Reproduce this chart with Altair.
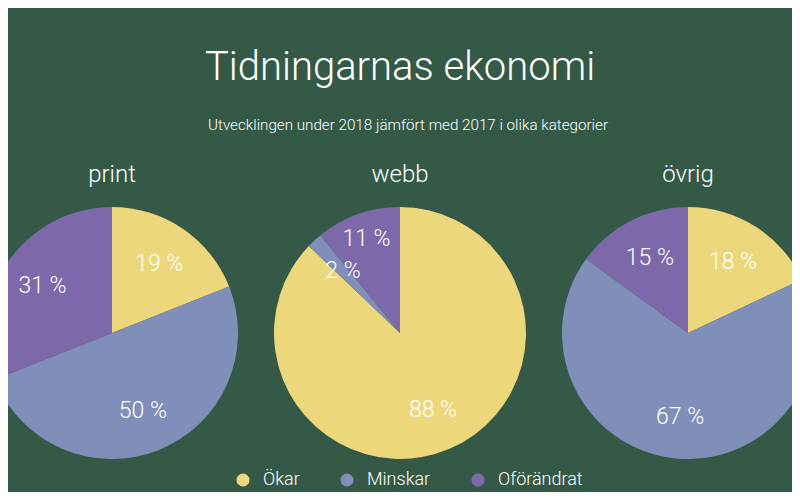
import altair as alt
import pandas as pd

title_text = "Tidningarnas ekonomi"
subtitle_text = "Utvecklingen under 2018 jämfört med 2017 i olika kategorier"
panels = ["print", "webb", "övrig"]
categories = ["Ökar", "Minskar", "Oförändrat"]
print_values = [19, 50, 31]
webb_values = [88, 2, 11]
ovrig_values = [18, 67, 15]
colors = ["#ecd77a", "#7f8fb9", "#7d69aa"]
bg = "#345a47"
FONT = "Roboto"

rows = []
for p, vals in zip(panels, [print_values, webb_values, ovrig_values]):
    for i, (c, v) in enumerate(zip(categories, vals)):
        rows.append({"panel": p, "cat": c, "value": v, "order": i})
df = pd.DataFrame(rows)

X = alt.X("panel:N", scale=alt.Scale(type="point", domain=panels, range=[104, 680], padding=0), axis=None)
theta_scale = alt.Scale(domain=[0, 1], range=[0, 6.283185307179586])

base = alt.Chart(df).transform_stack(
    stack="value", groupby=["panel"], as_=["t0", "t1"], offset="normalize",
    sort=[alt.SortField("order", order="ascending")]
).transform_calculate(
    mid="(datum.t0 + datum.t1) / 2", label="datum.value + ' %'"
)

arcs = base.mark_arc(radius=126).encode(
    x=X,
    y=alt.value(325),
    theta=alt.Theta("t0:Q", scale=theta_scale),
    theta2="t1:Q",
    color=alt.Color(
        "cat:N",
        scale=alt.Scale(domain=categories, range=colors),
        legend=alt.Legend(
            title=None, orient="none", legendX=226, legendY=463, direction="horizontal",
            symbolType="circle", symbolSize=170, symbolStrokeWidth=0, symbolOpacity=1,
            labelColor="white", labelFontSize=18, labelFont=FONT, labelFontWeight=300,
            labelOffset=11, columnPadding=38, padding=0,
        ),
    ),
)

label_style = dict(font=FONT, fontSize=23, fontWeight=300, color="white", align="center", baseline="middle")

labels = base.transform_filter(
    "!(datum.panel == 'webb' && datum.cat == 'Oförändrat')"
).mark_text(**label_style).encode(
    x=X, y=alt.value(325), theta=alt.Theta("mid:Q", scale=theta_scale), radius=alt.value(84), text="label:N"
)
labels_out = base.transform_filter(
    "datum.panel == 'webb' && datum.cat == 'Oförändrat'"
).mark_text(**label_style).encode(
    x=X, y=alt.value(325), theta=alt.Theta("mid:Q", scale=theta_scale), radius=alt.value(100), text="label:N"
)

panel_titles = alt.Chart(pd.DataFrame({"panel": panels})).mark_text(
    font=FONT, fontSize=24, fontWeight=300, color="white", align="center", baseline="middle"
).encode(x=X, y=alt.value(167), text="panel:N")

title = alt.Chart(pd.DataFrame({"t": [title_text]})).mark_text(
    font=FONT, fontSize=40, fontWeight=300, color="white", align="center", baseline="middle"
).encode(x=alt.value(392), y=alt.value(60), text="t:N")

subtitle = alt.Chart(pd.DataFrame({"t": [subtitle_text]})).mark_text(
    font=FONT, fontSize=15.2, fontWeight=300, color="white", align="center", baseline="middle"
).encode(x=alt.value(400), y=alt.value(117), text="t:N")

chart = alt.layer(arcs, labels, labels_out, panel_titles, title, subtitle).properties(
    width=784, height=484, autosize=alt.AutoSizeParams(type="none"), padding=0, background=bg
).configure_view(stroke=None)

chart.save("out.html", embed_options={"renderer": "svg", "actions": False})
